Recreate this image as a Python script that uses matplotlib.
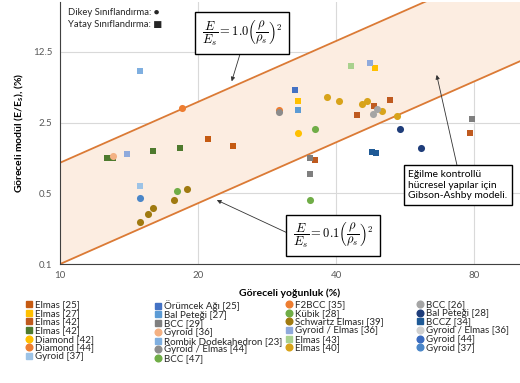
import numpy as np
import matplotlib
matplotlib.use('Agg')
import matplotlib.pyplot as plt
from matplotlib.lines import Line2D

plt.rcParams['font.family'] = ['Lato', 'DejaVu Sans']
plt.rcParams['mathtext.fontset'] = 'cm'

# legend order (column by column, as in the reference)
series_labels = [
    'Elmas [25]', 'Elmas [27]', 'Elmas [42]', 'Elmas [42]', 'Diamond [42]', 'Diamond [44]', 'Gyroid [37]',
    'Örümcek Ağı [25]', 'Bal Peteği [27]', 'BCC [29]', 'Gyroid [36]', 'Rombik Dodekahedron [23]',
    'Gyroid / Elmas [44]', 'BCC [47]',
    'F2BCC [35]', 'Kübik [28]', 'Schwartz Elması [39]', 'Gyroid / Elmas [36]', 'Elmas [43]', 'Elmas [40]',
    'BCC [26]', 'Bal Peteği [28]', 'BCCZ [34]', 'Gyroid / Elmas [36]', 'Gyroid [44]', 'Gyroid [37]',
]
# s = yatay (square), o = dikey (circle)
series_markers = ['s', 's', 's', 's', 'o', 'o', 's',
                  's', 's', 's', 'o', 's', 'o', 'o',
                  'o', 'o', 'o', 's', 's', 'o',
                  'o', 'o', 's', 'o', 'o', 'o']
series_colors = ['#C55A11', '#FFC000', '#BF5A1F', '#4E7A2E', '#FFC000', '#ED7D31', '#9DC3E6',
                 '#4472C4', '#5B9BD5', '#7F7F7F', '#F4B183', '#7FAFE0', '#8C8C8C', '#70AD47',
                 '#ED7D31', '#70AD47', '#A07A10', '#8FAADC', '#A9D18E', '#D8A31A',
                 '#A5A5A5', '#1F3D7A', '#1F5A96', '#D0D0D0', '#3A6BC0', '#4A86C8']

# relative density (%) per series
rho_vals = [
    [21.0, 23.9], [33.0, 48.7], [52.5, 48.3, 44.4, 36.0, 78.1], [12.7, 13.1, 15.95, 18.3],
    [33.0], [30.0], [15.0],
    [32.6], [33.0], [35.0, 35.0, 79.0], [13.1], [15.0], [30.0], [18.0],
    [18.5], [36.0, 35.0], [15.0, 15.56, 16.0, 17.75, 18.9], [47.4, 14.0], [43.0],
    [38.2, 40.6, 45.5, 46.8, 50.3, 54.2],
    [49.2, 48.1], [55.1, 61.1], [47.9, 48.9], [], [], [15.0],
]
# relative modulus (%) per series
mod_vals = [
    [1.71, 1.48], [4.12, 8.73], [4.21, 3.61, 2.97, 1.07, 1.97], [1.12, 1.12, 1.31, 1.39],
    [1.99], [3.35], [0.594],
    [5.23], [3.31], [1.12, 0.77, 2.71], [1.16], [8.0], [3.18], [0.53],
    [3.45], [2.18, 0.43], [0.26, 0.312, 0.358, 0.432, 0.551], [9.7, 1.24], [9.12],
    [4.51, 4.12, 3.78, 4.05, 3.28, 2.88],
    [3.41, 3.04], [2.18, 1.40], [1.27, 1.26], [], [], [0.455],
]

x_ticks = [10, 20, 40, 80]
y_ticks = [0.1, 0.5, 2.5, 12.5]
y_ticklabels = ['0.1', '0.5', '2.5', '12.5']
C_upper = 1.0
C_lower = 0.1

W, H = 520, 383
fig = plt.figure(figsize=(W / 100, H / 100), dpi=100)
ax = fig.add_axes([59.5 / W, 1 - 264.3 / H, (W - 59.5) / W, 262.3 / H])
ax.set_xscale('log')
ax.set_yscale('log')
ax.set_xlim(10, 100.5)
ax.set_ylim(0.1, 38.8)

# Gibson-Ashby band
xl = np.array([10, 100.5])
up = C_upper * xl ** 2 / 100
lo = C_lower * xl ** 2 / 100
ax.fill_between(xl, lo, up, color='#FCEDE1', zorder=1, lw=0)
ax.plot(xl, up, color='#DB7A35', lw=1.3, zorder=2)
ax.plot(xl, lo, color='#DB7A35', lw=1.3, zorder=2)

for lab, m, c, xs, ys in zip(series_labels, series_markers, series_colors, rho_vals, mod_vals):
    ax.scatter(xs, ys, marker=m, color=c, s=26 if m == 'o' else 24, linewidths=0, zorder=3)

ax.set_xticks(x_ticks)
ax.set_xticklabels([str(v) for v in x_ticks])
ax.set_yticks(y_ticks)
ax.set_yticklabels(y_ticklabels)
ax.minorticks_off()
ax.tick_params(length=0, labelsize=7, labelcolor='#595959', pad=5)
ax.grid(True, color='#D9D9D9', lw=0.8, zorder=0)
ax.set_axisbelow(True)
for s in ['top', 'right']:
    ax.spines[s].set_visible(False)
ax.spines['left'].set_color('#404040')
ax.spines['bottom'].set_color('#404040')

ax.set_xlabel('Göreceli yoğunluk (%)', fontsize=7.5, fontweight='bold', labelpad=6)
ax.set_ylabel('Göreceli modül (E/E$_\\mathregular{s}$), (%)', fontsize=7.5, fontweight='bold', labelpad=5)

fig.text(68 / W, 1 - 12.7 / H, 'Dikey Sınıflandırma: ●', fontsize=6.8, va='center', color='#262626')
fig.text(68 / W, 1 - 24.3 / H, 'Yatay Sınıflandırma: ■', fontsize=6.8, va='center', color='#262626')

box = dict(boxstyle='square,pad=0.45', fc='white', ec='black', lw=1.0)
arrow = dict(arrowstyle='-|>', color='#333333', lw=0.6, mutation_scale=6, shrinkA=0, shrinkB=0)
ax.annotate(r'$\dfrac{E}{E_s} = 1.0\left(\dfrac{\rho}{\rho_s}\right)^2$', xy=(23.7, 6.4),
            xytext=(242 / W, 1 - 33 / H), textcoords='figure fraction', ha='center', va='center',
            fontsize=9, bbox=dict(box, boxstyle='square,pad=0.5'),
            arrowprops=dict(arrow, relpos=(0.5, 0)), zorder=5)
ax.annotate(r'$\dfrac{E}{E_s} = 0.1\left(\dfrac{\rho}{\rho_s}\right)^2$', xy=(22.0, 0.43),
            xytext=(333 / W, 1 - 235.4 / H), textcoords='figure fraction', ha='center', va='center',
            fontsize=9, bbox=dict(box, boxstyle='square,pad=0.5'),
            arrowprops=dict(arrow, relpos=(0, 0.5)), zorder=5)
ax.annotate('Eğilme kontrollü\nhücresel yapılar için\nGibson-Ashby modeli.', xy=(66.2, 7.4),
            xytext=(458 / W, 1 - 185 / H), textcoords='figure fraction', ha='center', va='center',
            multialignment='left', fontsize=7.4, linespacing=1.25,
            bbox=dict(box, boxstyle='square,pad=0.42'), arrowprops=dict(arrow, relpos=(0.5, 1)), zorder=5)

handles = [Line2D([], [], marker=m, color=c, ls='', markersize=4.3 if m == 's' else 4.8, label=lab)
           for lab, m, c in zip(series_labels, series_markers, series_colors)]
splits = [0, 7, 14, 20, 26]
col_left = [25.6, 154.6, 285.6, 416.6]
for k in range(4):
    fig.legend(handles=handles[splits[k]:splits[k + 1]], loc='upper left',
               bbox_to_anchor=(col_left[k] / W, 1 - 300 / H), frameon=False, fontsize=7,
               handlelength=0.7, handletextpad=0.25, borderpad=0, borderaxespad=0,
               labelspacing=-0.03, handleheight=0.5, labelcolor='#262626')

fig.savefig('out.png', dpi=100)
